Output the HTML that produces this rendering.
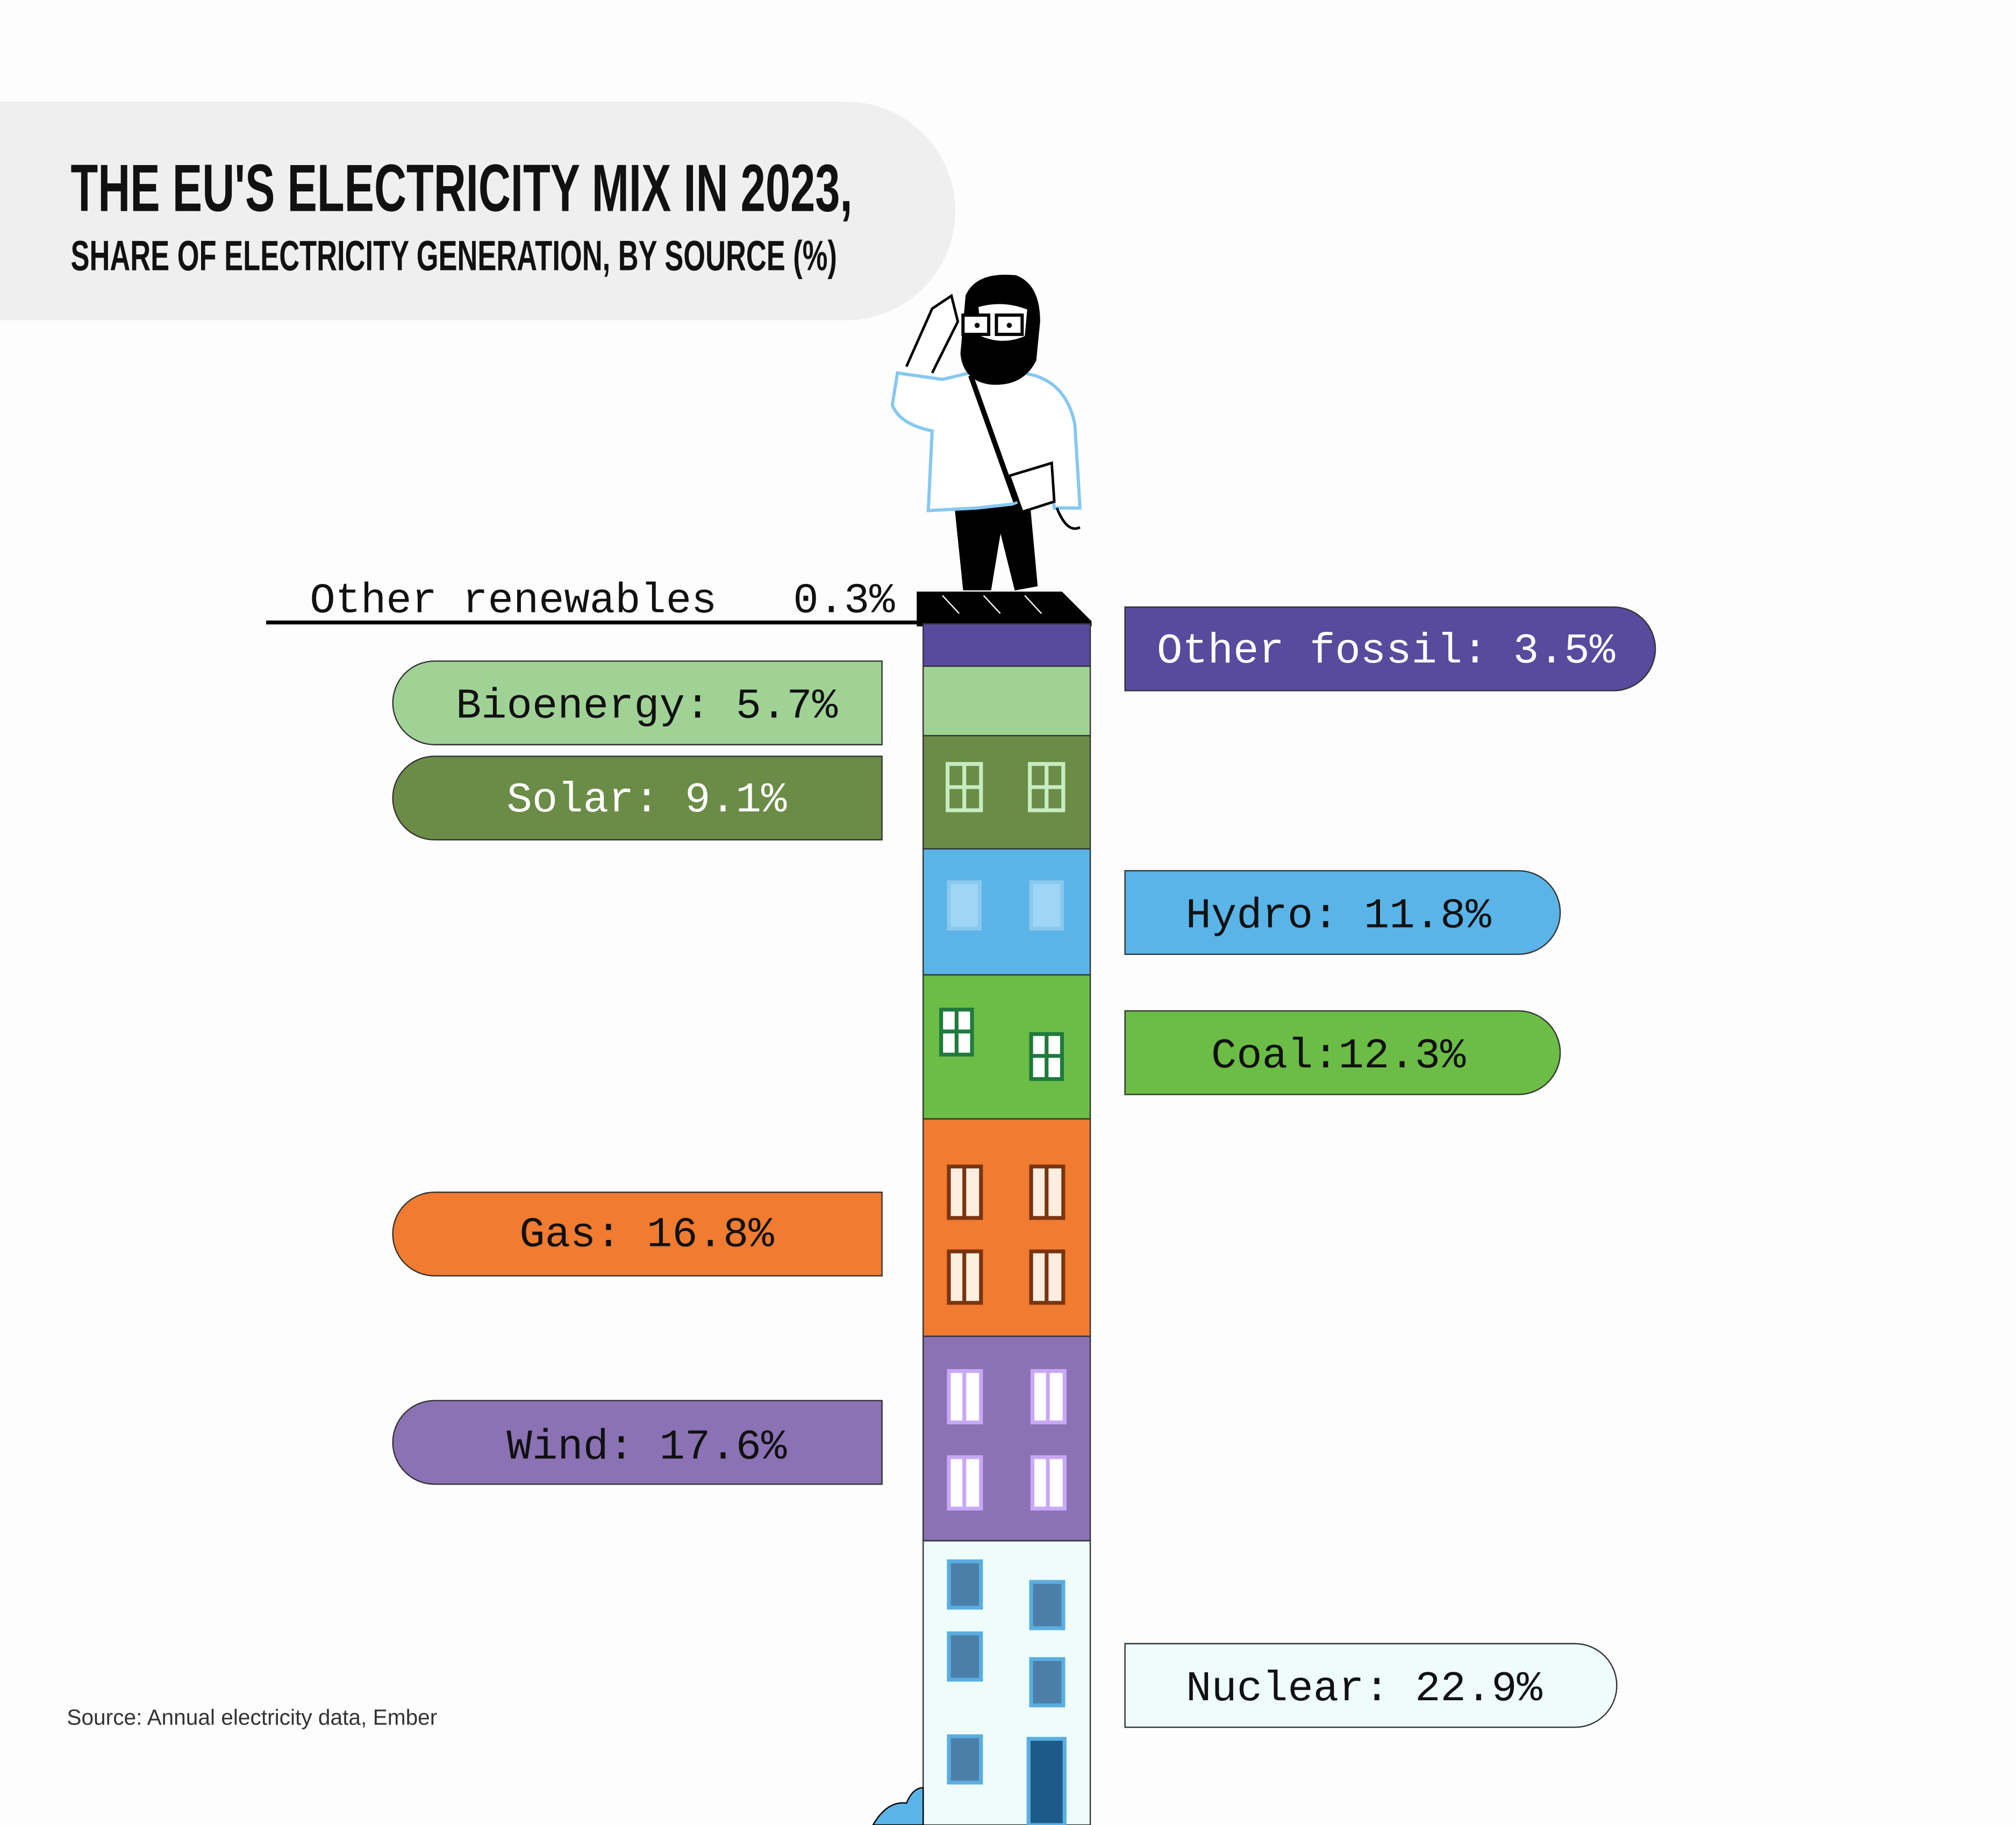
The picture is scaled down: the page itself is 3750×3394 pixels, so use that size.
<!DOCTYPE html>
<html><head><meta charset="utf-8"><style>
html,body{margin:0;padding:0;background:#fdfdfd;}
svg{display:block;}
.m{font-family:"Liberation Mono",monospace;font-size:33px;}
</style></head><body>
<svg width="3750" height="3394" viewBox="0 0 1568 1419" preserveAspectRatio="none" xmlns="http://www.w3.org/2000/svg">
<rect width="1568" height="1419" fill="#fdfdfd"/>
<!-- header -->
<path d="M0 79 H658 A85 85 0 0 1 658 249 H0 Z" fill="#efefef"/>
<text x="55" y="164" font-family="Liberation Sans Narrow, Liberation Sans, sans-serif" font-weight="bold" font-size="52" style="font-stretch:condensed" textLength="608" lengthAdjust="spacingAndGlyphs" fill="#111">THE EU'S ELECTRICITY MIX IN 2023,</text>
<text x="55" y="210" font-family="Liberation Sans Narrow, Liberation Sans, sans-serif" font-weight="bold" font-size="33" style="font-stretch:condensed" textLength="596" lengthAdjust="spacingAndGlyphs" fill="#111">SHARE OF ELECTRICITY GENERATION, BY SOURCE (%)</text>

<!-- person -->
<g stroke="#000" stroke-width="2" fill="none">
<path d="M743 390 L800 390 L806 455 L790 458 L778 410 L770 458 L750 458 Z" fill="#000"/>
<path d="M733 295 L775 285 L805 292 Q830 300 836 330 L840 395 L820 395 L818 380 L787 392 L760 395 L722 397 L725 335 Q700 330 694 315 L698 290 Z" fill="#fff" stroke="#86c8f0" stroke-width="2.5"/>
<path d="M755 292 L790 390" stroke-width="4"/>
<path d="M785 370 L818 360 L820 390 L795 398 Z" fill="#fff"/>
<path d="M705 285 L725 240 L740 230 L745 250 L725 290" fill="#fff"/>
<path d="M752 230 Q760 212 790 215 Q808 222 808 250 L805 280 Q795 300 770 298 Q750 295 748 275 Z" fill="#000"/>
<path d="M760 238 Q780 232 800 240 L798 262 Q780 270 762 262 Z" fill="#fff"/>
<rect x="749" y="245" width="20" height="15" fill="#fff" stroke-width="2.5"/>
<rect x="775" y="245" width="20" height="15" fill="#fff" stroke-width="2.5"/>
<path d="M822 395 Q830 415 840 410"/>
</g>
<circle cx="760" cy="253" r="2" fill="#000"/><circle cx="785" cy="253" r="2" fill="#000"/>

<!-- roof -->
<path d="M713 460 H826 L849 483 V487 H713 Z" fill="#000"/>
<g stroke="#fff" stroke-width="1"><line x1="733" y1="463" x2="746" y2="477"/><line x1="765" y1="463" x2="778" y2="477"/><line x1="797" y1="463" x2="810" y2="477"/></g>

<!-- other renewables -->
<text x="241" y="476" class="m" fill="#111" xml:space="preserve" style="white-space:pre" textLength="455">Other renewables   0.3%</text>
<line x1="207" y1="484" x2="718" y2="484" stroke="#000" stroke-width="3"/>

<!-- building -->
<g stroke="#333" stroke-width="1">
<rect x="718" y="485" width="130" height="33" fill="#584a9d"/>
<rect x="718" y="518" width="130" height="54" fill="#a0d296"/>
<rect x="718" y="572" width="130" height="88" fill="#6b8c47"/>
<rect x="718" y="660" width="130" height="98" fill="#5ab4e8"/>
<rect x="718" y="758" width="130" height="112" fill="#6bbd45"/>
<rect x="718" y="870" width="130" height="169" fill="#f07b31"/>
<rect x="718" y="1039" width="130" height="159" fill="#8a72b4"/>
<rect x="718" y="1198" width="130" height="221" fill="#eefcfc"/>
</g>
<!-- windows -->
<g stroke-width="3">
<g fill="none" stroke="#c6ecc0"><rect x="737" y="594" width="26" height="36"/><rect x="801" y="594" width="26" height="36"/><path d="M750 594V630M737 612H763M814 594V630M801 612H827"/></g>
<g fill="#9fd6f5" stroke="#8bc8ee"><rect x="738" y="686" width="24" height="36"/><rect x="802" y="686" width="24" height="36"/></g>
<g fill="#fff" stroke="#1f7a3c"><rect x="732" y="785" width="24" height="35"/><rect x="802" y="804" width="24" height="35"/><path d="M744 785V820M732 802H756M814 804V839M802 821H826"/></g>
<g fill="#fbeee0" stroke="#7a3510"><rect x="738" y="907" width="25" height="40"/><rect x="802" y="907" width="25" height="40"/><rect x="738" y="973" width="25" height="40"/><rect x="802" y="973" width="25" height="40"/><path d="M750 907V947M814 907V947M750 973V1013M814 973V1013"/></g>
<g fill="#fff" stroke="#c8a8f8"><rect x="738" y="1066" width="25" height="40"/><rect x="803" y="1066" width="25" height="40"/><rect x="738" y="1133" width="25" height="40"/><rect x="803" y="1133" width="25" height="40"/><path d="M750 1066V1106M815 1066V1106M750 1133V1173M815 1133V1173"/></g>
<g fill="#4c7fa8" stroke="#5aaee0"><rect x="738" y="1214" width="25" height="36"/><rect x="802" y="1230" width="25" height="36"/><rect x="738" y="1270" width="25" height="36"/><rect x="802" y="1290" width="25" height="36"/><rect x="738" y="1350" width="25" height="36"/></g>
<rect x="800" y="1352" width="28" height="67" fill="#1d5a8a" stroke="#5aaee0" stroke-width="3"/>
</g>
<path d="M679 1419 Q690 1400 705 1402 Q710 1390 718 1390 V1419Z" fill="#5ab4e8" stroke="#000" stroke-width="1"/>

<!-- left labels -->
<g stroke="#333" stroke-width="1">
<path d="M338 514 H686 V579 H338 A32.5 32.5 0 0 1 338 514Z" fill="#a0d296"/>
<path d="M338 588 H686 V653 H338 A32.5 32.5 0 0 1 338 588Z" fill="#6b8c47"/>
<path d="M338 927 H686 V992 H338 A32.5 32.5 0 0 1 338 927Z" fill="#f07b31"/>
<path d="M338 1089 H686 V1154 H338 A32.5 32.5 0 0 1 338 1089Z" fill="#8a72b4"/>
<!-- right labels -->
<path d="M875 472 H1255 A32.5 32.5 0 0 1 1255 537 H875Z" fill="#584a9d"/>
<path d="M875 677 H1181 A32.5 32.5 0 0 1 1181 742 H875Z" fill="#5ab4e8"/>
<path d="M875 786 H1181 A32.5 32.5 0 0 1 1181 851 H875Z" fill="#6bbd45"/>
<path d="M875 1278 H1225 A32.5 32.5 0 0 1 1225 1343 H875Z" fill="#eefcfc"/>
</g>
<g class="m" text-anchor="middle">
<text x="503" y="558" fill="#111">Bioenergy: 5.7%</text>
<text x="503" y="631" fill="#fff">Solar: 9.1%</text>
<text x="503" y="969" fill="#111">Gas: 16.8%</text>
<text x="503" y="1134" fill="#111">Wind: 17.6%</text>
<text x="1078" y="515" fill="#fff">Other fossil: 3.5%</text>
<text x="1041" y="721" fill="#111">Hydro: 11.8%</text>
<text x="1041" y="830" fill="#111">Coal:12.3%</text>
<text x="1061" y="1322" fill="#111">Nuclear: 22.9%</text>
</g>
<text x="52" y="1341" font-family="Liberation Sans, sans-serif" font-size="17" fill="#333">Source: Annual electricity data, Ember</text>
</svg>
</body></html>
